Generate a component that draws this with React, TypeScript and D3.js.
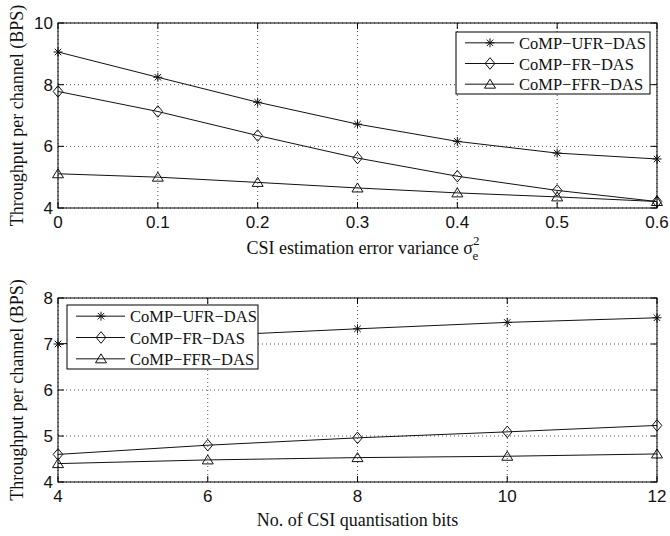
import React from "react";
import * as d3 from "d3";

const topX = [0, 0.1, 0.2, 0.3, 0.4, 0.5, 0.6];
const topUFR = [9.06, 8.24, 7.43, 6.72, 6.16, 5.78, 5.59];
const topFR = [7.78, 7.13, 6.35, 5.62, 5.03, 4.57, 4.21];
const topFFR = [5.11, 5.0, 4.83, 4.65, 4.49, 4.36, 4.21];
const topXTicks = [0, 0.1, 0.2, 0.3, 0.4, 0.5, 0.6];
const topYTicks = [4, 6, 8, 10];

const botX = [4, 6, 8, 10, 12];
const botUFR = [7.0, 7.18, 7.33, 7.47, 7.57];
const botFR = [4.6, 4.8, 4.96, 5.09, 5.23];
const botFFR = [4.4, 4.48, 4.53, 4.56, 4.61];
const botXTicks = [4, 6, 8, 10, 12];
const botYTicks = [4, 5, 6, 7, 8];

const seriesNames = ["CoMP\u2212UFR\u2212DAS", "CoMP\u2212FR\u2212DAS", "CoMP\u2212FFR\u2212DAS"];
const markerTypes = ["star", "diamond", "triangle"];

const SANS = "'Liberation Sans', Arial, sans-serif";
const SERIF = "'Liberation Serif', 'Times New Roman', serif";

function Marker({ type, x, y }: { type: string; x: number; y: number }) {
  const c = "#111";
  if (type === "star") {
    const r = 4.5;
    const d = r * 0.72;
    return (
      <g stroke={c} strokeWidth={1}>
        <line x1={x - r} y1={y} x2={x + r} y2={y} />
        <line x1={x} y1={y - r} x2={x} y2={y + r} />
        <line x1={x - d} y1={y - d} x2={x + d} y2={y + d} />
        <line x1={x - d} y1={y + d} x2={x + d} y2={y - d} />
      </g>
    );
  }
  if (type === "diamond") {
    const w = 4.8, h = 5.8;
    return (
      <path
        d={`M${x},${y - h}L${x + w},${y}L${x},${y + h}L${x - w},${y}Z`}
        fill="none"
        stroke={c}
        strokeWidth={1}
      />
    );
  }
  const w = 5.5;
  return (
    <path
      d={`M${x},${y - 5}L${x + w},${y + 4}L${x - w},${y + 4}Z`}
      fill="none"
      stroke={c}
      strokeWidth={1}
    />
  );
}

interface PanelProps {
  xs: number[];
  series: number[][];
  xDomain: [number, number];
  yDomain: [number, number];
  xTicks: number[];
  yTicks: number[];
  left: number;
  right: number;
  top: number;
  bottom: number;
  xFmt: (v: number) => string;
  legend: { x0: number; y0: number; x1: number; y1: number };
  xLabel: React.ReactNode;
}

function Panel(p: PanelProps) {
  const x = d3.scaleLinear().domain(p.xDomain).range([p.left, p.right]);
  const y = d3.scaleLinear().domain(p.yDomain).range([p.bottom, p.top]);
  const line = d3
    .line<number>()
    .x((_, i) => x(p.xs[i]))
    .y((d) => y(d));
  const tl = 6;
  const lg = p.legend;
  const rowH = (lg.y1 - lg.y0) / 3;
  const yMid = (p.top + p.bottom) / 2;
  return (
    <g>
      {p.xTicks.map((t) => (
        <line
          key={"gx" + t}
          x1={x(t)}
          x2={x(t)}
          y1={p.top}
          y2={p.bottom}
          stroke="#222"
          strokeWidth={0.8}
          strokeDasharray="1,3"
        />
      ))}
      {p.yTicks.map((t) => (
        <line
          key={"gy" + t}
          x1={p.left}
          x2={p.right}
          y1={y(t)}
          y2={y(t)}
          stroke="#222"
          strokeWidth={0.8}
          strokeDasharray="1,3"
        />
      ))}
      {p.xTicks.map((t) => (
        <g key={"tx" + t} stroke="#000" strokeWidth={1}>
          <line x1={x(t)} x2={x(t)} y1={p.bottom} y2={p.bottom - tl} />
          <line x1={x(t)} x2={x(t)} y1={p.top} y2={p.top + tl} />
        </g>
      ))}
      {p.yTicks.map((t) => (
        <g key={"ty" + t} stroke="#000" strokeWidth={1}>
          <line x1={p.left} x2={p.left + tl} y1={y(t)} y2={y(t)} />
          <line x1={p.right} x2={p.right - tl} y1={y(t)} y2={y(t)} />
        </g>
      ))}
      {p.series.map((s, si) => (
        <g key={"s" + si}>
          <path d={line(s) || ""} fill="none" stroke="#111" strokeWidth={1} />
          {s.map((v, i) => (
            <Marker key={i} type={markerTypes[si]} x={x(p.xs[i])} y={y(v)} />
          ))}
        </g>
      ))}
      <rect
        x={p.left}
        y={p.top}
        width={p.right - p.left}
        height={p.bottom - p.top}
        fill="none"
        stroke="#000"
        strokeWidth={1}
      />
      {p.xTicks.map((t) => (
        <text
          key={"lx" + t}
          x={x(t)}
          y={p.bottom + 20}
          textAnchor="middle"
          fontFamily={SANS}
          fontSize={17}
          fill="#111"
        >
          {p.xFmt(t)}
        </text>
      ))}
      {p.yTicks.map((t) => (
        <text
          key={"ly" + t}
          x={p.left - 5}
          y={y(t) + 6}
          textAnchor="end"
          fontFamily={SANS}
          fontSize={17}
          fill="#111"
        >
          {t}
        </text>
      ))}
      <text
        transform={`translate(23,${yMid}) rotate(-90)`}
        textAnchor="middle"
        fontFamily={SERIF}
        fontSize={18}
        fill="#111"
      >
        Throughput per channel (BPS)
      </text>
      {p.xLabel}
      <rect
        x={lg.x0}
        y={lg.y0}
        width={lg.x1 - lg.x0}
        height={lg.y1 - lg.y0}
        fill="#fff"
        stroke="#000"
        strokeWidth={1}
      />
      {seriesNames.map((n, i) => {
        const cy = lg.y0 + rowH * (i + 0.5) + 0.5;
        return (
          <g key={"lg" + i}>
            <line x1={lg.x0 + 9} x2={lg.x0 + 58} y1={cy} y2={cy} stroke="#111" strokeWidth={1} />
            <Marker type={markerTypes[i]} x={lg.x0 + 34} y={cy} />
            <text x={lg.x0 + 63} y={cy + 6} fontFamily={SERIF} fontSize={16.5} fill="#111">
              {n}
            </text>
          </g>
        );
      })}
    </g>
  );
}

export default function App() {
  const left = 58, right = 657;
  return (
    <svg
      width={670}
      height={536}
      style={{ position: "absolute", left: 0, top: 0, background: "#fff" }}
    >
      <rect width={670} height={536} fill="#fff" />
      <Panel
        xs={topX}
        series={[topUFR, topFR, topFFR]}
        xDomain={[0, 0.6]}
        yDomain={[4, 10]}
        xTicks={topXTicks}
        yTicks={topYTicks}
        left={left}
        right={right}
        top={23}
        bottom={208}
        xFmt={(v) => (v === 0 ? "0" : d3.format(".1f")(v))}
        legend={{ x0: 456, y0: 32, x1: 650, y1: 94 }}
        xLabel={
          <text x={363} y={254} textAnchor="middle" fontFamily={SERIF} fontSize={18} fill="#111">
            CSI estimation error variance σ
            <tspan fontSize={13} dy={-9}>2</tspan>
            <tspan fontSize={13} dx={-7} dy={15}>e</tspan>
          </text>
        }
      />
      <Panel
        xs={botX}
        series={[botUFR, botFR, botFFR]}
        xDomain={[4, 12]}
        yDomain={[4, 8]}
        xTicks={botXTicks}
        yTicks={botYTicks}
        left={left}
        right={right}
        top={298}
        bottom={482}
        xFmt={(v) => String(v)}
        legend={{ x0: 67, y0: 305, x1: 258, y1: 369 }}
        xLabel={
          <text x={357.5} y={526} textAnchor="middle" fontFamily={SERIF} fontSize={18} fill="#111">
            No. of CSI quantisation bits
          </text>
        }
      />
    </svg>
  );
}
